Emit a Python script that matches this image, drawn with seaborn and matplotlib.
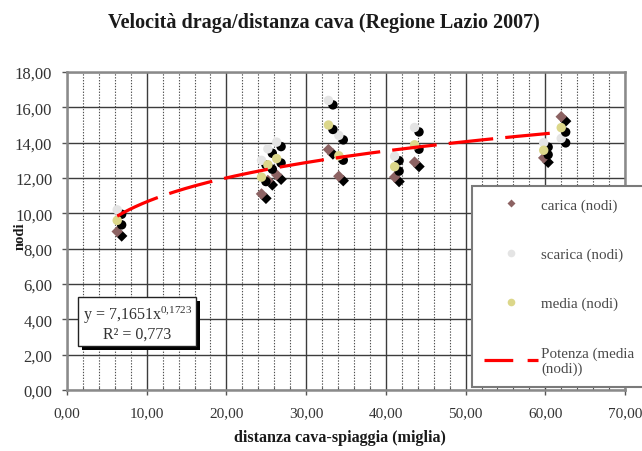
import numpy as np
import pandas as pd
import matplotlib
matplotlib.use("Agg")
import matplotlib.pyplot as plt
import matplotlib.patheffects as pe
from matplotlib.lines import Line2D
import seaborn as sns

# Distanza cava-spiaggia (miglia) e velocità draga (nodi)
distanza = [6.3, 24.4, 25.2, 26.3, 32.8, 34.1, 41.1, 43.6, 59.8, 62.0]
carica = [8.97, 11.10, 11.86, 12.18, 13.61, 12.10, 12.05, 12.90, 13.14, 15.47]
scarica = [10.20, 13.00, 13.65, 14.03, 16.39, 14.41, 13.23, 14.86, 14.00, 14.24]
media = [9.60, 12.05, 12.75, 13.10, 15.00, 13.26, 12.64, 13.88, 13.57, 14.85]

# Linea di tendenza di potenza sulla media: y = a * x^b
coef_a = 7.1651
coef_b = 0.1723
r2 = 0.773

serie_nomi = ["carica (nodi)", "scarica (nodi)", "media (nodi)"]
serie_colori = ["#8c6262", "#e4e4e4", "#dcd78a"]
serie_marker = ["D", "o", "o"]
serie_size = [34, 46, 46]

sns.set_theme(style="white")
plt.rcParams["font.family"] = ["Liberation Serif", "DejaVu Serif"]
plt.rcParams["mathtext.fontset"] = "custom"
plt.rcParams["mathtext.rm"] = "Liberation Serif"
plt.rcParams["mathtext.it"] = "Liberation Serif:italic"

df = pd.DataFrame({"distanza": distanza, serie_nomi[0]: carica,
                   serie_nomi[1]: scarica, serie_nomi[2]: media})
df_long = df.melt(id_vars="distanza", var_name="serie", value_name="nodi")

fig = plt.figure(figsize=(6.42, 4.52), dpi=100)
ax = fig.add_axes([67 / 642, 1 - 391 / 452, (625 - 67) / 642, (391 - 73) / 452])
ax.set_facecolor("white")

shadow = [pe.SimplePatchShadow(offset=(3.2, -3.2), shadow_rgbFace="black", alpha=1.0),
          pe.Normal()]

for nome, col, mk, sz in zip(serie_nomi, serie_colori, serie_marker, serie_size):
    sub = df_long[df_long["serie"] == nome]
    n_before = len(ax.collections)
    sns.scatterplot(data=sub, x="distanza", y="nodi", color=col, marker=mk,
                    s=sz, edgecolor="none", linewidth=0, legend=False,
                    ax=ax, zorder=4)
    for coll in ax.collections[n_before:]:
        coll.set_path_effects(shadow)

# Curva di tendenza
xt = np.linspace(min(distanza), max(distanza), 300)
trend = pd.DataFrame({"distanza": xt, "nodi": coef_a * xt ** coef_b})
sns.lineplot(data=trend, x="distanza", y="nodi", color="#ff0000", lw=2.3,
             ax=ax, zorder=5, dashes=False)
ax.lines[-1].set_dashes((14, 3.8))
ax.lines[-1].set_solid_capstyle("butt")

ax.set_xlim(0, 70)
ax.set_ylim(0, 18)
ax.set_xticks(np.arange(0, 71, 10))
ax.set_xticks(np.arange(0, 71, 2), minor=True)
ax.set_yticks(np.arange(0, 19, 2))
ax.set_xticklabels([f"{v:.2f}".replace(".", ",") for v in np.arange(0, 71, 10)])
ax.set_yticklabels([f"{v:.2f}".replace(".", ",") for v in np.arange(0, 19, 2)])
ax.set_xlabel("")
ax.set_ylabel("")

ax.grid(which="major", axis="both", color="#3c3c3c", lw=1.0, zorder=1)
ax.grid(which="minor", axis="x", color="#505050", lw=0.8,
        linestyle=(0, (1.2, 1.4)), zorder=1)
ax.set_axisbelow(True)

for sp in ax.spines.values():
    sp.set_color("#8a8a8a")
    sp.set_linewidth(1.8)

ax.tick_params(which="major", direction="out", length=3.6, width=1.0,
               color="#555555", labelcolor="#333333", pad=7,
               bottom=True, left=True)
ax.tick_params(axis="y", labelsize=12)
ax.tick_params(axis="x", labelsize=11, pad=8)
ax.tick_params(which="minor", axis="x", direction="in", length=2.2, width=0.8,
               color="#555555", bottom=True)

# Box con equazione
eq = ax.text(1.95, 3.82, "y = 7,1651x$^{\\mathrm{0{,}1723}}$\nR² = 0,773",
             ha="left", va="center", fontsize=11.5, color="#333333",
             multialignment="center", zorder=6, linespacing=1.1,
             bbox=dict(boxstyle="square,pad=0.28", fc="white", ec="#222222", lw=1.0))
eq.get_bbox_patch().set_path_effects(
    [pe.SimplePatchShadow(offset=(3, -3), shadow_rgbFace="black", alpha=1.0), pe.Normal()])

# Titoli
fig.text(0.505, 1 - 23 / 452, "Velocità draga/distanza cava (Regione Lazio 2007)",
         ha="center", va="center", fontsize=14.5, fontweight="bold", color="#1a1a1a")
fig.text(340 / 642, 1 - 438 / 452, "distanza cava-spiaggia (miglia)",
         ha="center", va="center", fontsize=11.6, fontweight="bold", color="#1a1a1a")
fig.text(20 / 642, 1 - 236 / 452, "nodi", rotation=90, ha="center", va="center",
         fontsize=10.5, fontweight="bold", color="#1a1a1a")

# Legenda
handles = [
    Line2D([], [], ls="none", marker="D", ms=4.5, mfc=serie_colori[0], mec="none"),
    Line2D([], [], ls="none", marker="o", ms=5.5, mfc=serie_colori[1], mec="none"),
    Line2D([], [], ls="none", marker="o", ms=5.5, mfc=serie_colori[2], mec="none"),
    Line2D([], [], color="#ff0000", lw=2.3, dashes=(9, 4.5), solid_capstyle="butt"),
]
labels = serie_nomi + ["Potenza (media\n(nodi))"]
leg = fig.legend(handles, labels, loc="upper left",
                 bbox_to_anchor=(472 / 642, 1 - 187 / 452, 0.5, 0.0),
                 fontsize=10.8, labelcolor="#4a4a4a", frameon=True, fancybox=False,
                 edgecolor="#7a7a7a", framealpha=1.0, borderpad=0.8,
                 labelspacing=2.38, handlelength=3.6, handletextpad=0.2,
                 borderaxespad=0.0)
leg.get_frame().set_linewidth(1.5)

fig.savefig("out.png", dpi=100, facecolor="white")
